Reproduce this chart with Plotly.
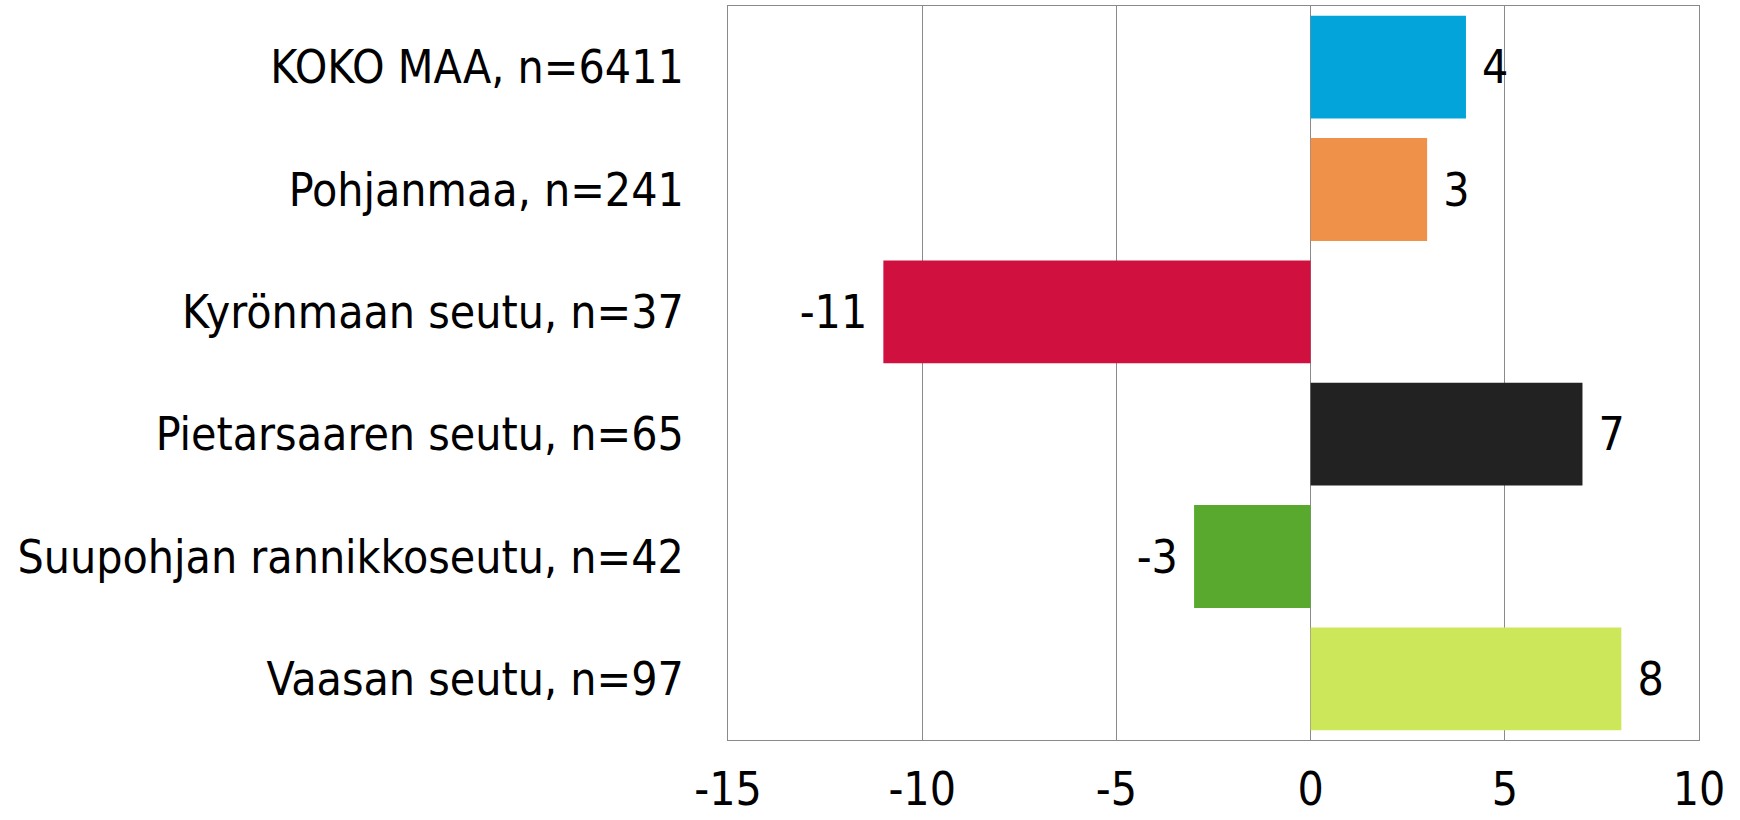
import plotly.graph_objects as go

categories = ["KOKO MAA, n=6411", "Pohjanmaa, n=241", "Kyrönmaan seutu, n=37",
              "Pietarsaaren seutu, n=65", "Suupohjan rannikkoseutu, n=42", "Vaasan seutu, n=97"]
values = [4, 3, -11, 7, -3, 8]
colors = ["#02A4DA", "#F0914A", "#D0103E", "#222222", "#58A92D", "#CDE75A"]
tick_vals = [-15, -10, -5, 0, 5, 10]

FONT = "DejaVu Sans Condensed"
FS = 46

labels = [(" " + str(v)) if v >= 0 else (str(v) + " ") for v in values]

fig = go.Figure(go.Bar(
    x=values, y=categories, orientation="h",
    marker=dict(color=colors, line=dict(width=0)),
    text=labels, textposition="outside",
    textfont=dict(family=FONT, size=FS, color="#000000"),
    cliponaxis=False, width=0.84,
))

fig.update_layout(
    width=1740, height=820,
    margin=dict(l=728, r=41, t=6, b=80, autoexpand=False),
    plot_bgcolor="white", paper_bgcolor="white",
    font=dict(family=FONT, size=FS, color="#000000"),
    showlegend=False,
)
fig.update_xaxes(
    range=[-15, 10], tickvals=tick_vals, ticktext=[str(t) for t in tick_vals],
    showgrid=True, gridcolor="#8a8a8a", gridwidth=1,
    zeroline=False, showline=True, linecolor="#8a8a8a", linewidth=1, mirror=True,
    tickfont=dict(family=FONT, size=FS), ticks="", ticklabelstandoff=9,
    automargin=False,
)
fig.update_yaxes(
    autorange="reversed", showgrid=False, zeroline=False,
    showline=True, linecolor="#8a8a8a", linewidth=1, mirror=True,
    tickfont=dict(family=FONT, size=FS), ticks="", ticklabelstandoff=34,
    automargin=False,
)

fig.write_html("out.html", config={"displayModeBar": False},
               post_script="document.body.style.margin='0';")
